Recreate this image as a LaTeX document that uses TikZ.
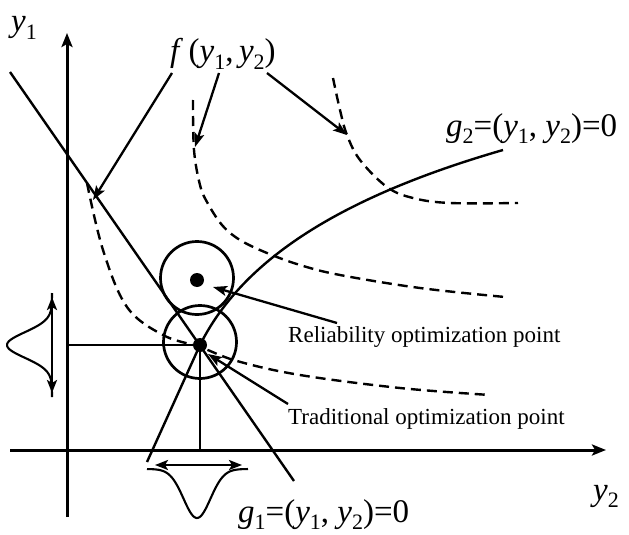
\documentclass[tikz,border=0pt]{standalone}
\usepackage{fontspec}
\setmainfont{Liberation Serif}
\usetikzlibrary{arrows.meta}
\newcommand{\sbx}[1]{\raisebox{-0.22em}{\fontsize{22}{22}\selectfont #1}}
\newcommand{\yy}[1]{\textit{y}\sbx{#1}}
\tikzset{
  ln/.style={line width=2.4pt},
  axis/.style={line width=3pt,-{Stealth[length=14pt,width=11pt,inset=3pt]}},
  ptr/.style={line width=2.3pt,-{Stealth[length=14pt,width=10pt,inset=3pt]}},
  dbl/.style={line width=2.4pt,{Stealth[length=13pt,width=10pt,inset=3pt]}-{Stealth[length=13pt,width=10pt,inset=3pt]}},
  dsh/.style={line width=2.4pt,dash pattern=on 10pt off 6pt},
  ring/.style={draw,circle,line width=2.7pt,minimum size=73pt,inner sep=0pt},
  dotp/.style={fill,circle,minimum size=14pt,inner sep=0pt},
  lbl/.style={font=\fontsize{23}{26}\selectfont,inner sep=0pt},
  big/.style={font=\fontsize{33}{36}\selectfont,inner sep=0pt},
}
\begin{document}
\begin{tikzpicture}[x=1pt,y=-1pt]
\useasboundingbox (0,0) rectangle (629,535);
% axes
\coordinate (ybot) at (67,517);
\coordinate (ytop) at (67,33);
\coordinate (xl) at (10,450);
\coordinate (xr) at (606,450);
\draw[axis] (ybot) -- (ytop);
\draw[axis] (xl) -- (xr);
\node[big,anchor=base west] (ly1) at (11,32) {\yy1};
\node[big,anchor=base west] (ly2) at (593,500) {\yy2};
% points and circles
\node[dotp] (tp) at (200,345) {};
\node[dotp] (rp) at (197,280) {};
\node[ring] (tc) at (200,342) {};
\node[ring] (rc) at (197,278) {};
% projections
\coordinate (ya) at (67,345);
\coordinate (xa) at (200,450);
\draw[ln] (ya) -- (tp.center);
\draw[ln] (tp.center) -- (xa);
% g1 line
\coordinate (g1a) at (10,72);
\coordinate (g1b) at (294,481);
\draw[ln] (g1a) -- (g1b);
% g2 curve
\coordinate (g2a) at (147,462);
\coordinate (g2b) at (503,150);
\draw[ln] (g2a) -- (tp.center) .. controls (240,265) and (330,200) .. (g2b);
% dashed contours
\draw[dsh] plot[smooth,tension=0.6] coordinates {(87,183) (103,250) (127,307) (163,335) (200,347) (237,361) (300,375) (400,388) (490,395)};
\draw[dsh] plot[smooth,tension=0.6] coordinates {(193,100) (194,150) (200,185) (207,202) (222,225) (240,240) (267,253) (300,265) (340,275) (420,288) (505,297)};
\draw[dsh] plot[smooth,tension=0.6] coordinates {(333,78) (340,110) (347,135) (360,160) (387,187) (413,198) (450,203) (518,203)};
% labels
\node[big,anchor=base west] (f) at (170,62) {\textit{f}\,(\yy1,\,\yy2)};
\node[big,anchor=base west] (g2) at (446,136) {\textit{g}\sbx{2}=(\yy1, \yy2)=0};
\node[big,anchor=base west] (g1) at (238,522) {\textit{g}\sbx{1}=(\yy1, \yy2)=0};
\node[lbl,anchor=base west] (rel) at (288,342) {Reliability optimization point};
\node[lbl,anchor=base west] (tra) at (288,424) {Traditional optimization point};
% pointers from f
\coordinate (fa) at (172,73);
\coordinate (fb) at (219,73);
\coordinate (fc) at (267,73);
\coordinate (ea) at (93,200);
\coordinate (eb) at (195,147);
\coordinate (ec) at (347,135);
\draw[ptr] (fa) -- (ea);
\draw[ptr] (fb) -- (eb);
\draw[ptr] (fc) -- (ec);
% pointers to points
\coordinate (rs) at (337,323);
\coordinate (re) at (213,287);
\coordinate (ts) at (288,404);
\coordinate (te) at (208,354);
\draw[ptr] (rs) -- (re);
\draw[ptr] (ts) -- (te);
% distributions
\coordinate (la) at (52,297);
\coordinate (lb) at (52,393);
\draw[dbl] (la) -- (lb);
\draw[line width=2.1pt] plot[domain=293:397,samples=80] ({52-45*exp(-((\x-345)/18)*((\x-345)/18))},\x);
\coordinate (ba) at (155,465);
\coordinate (bb) at (242,465);
\draw[dbl] (ba) -- (bb);
\draw[line width=2.1pt] plot[domain=147:248,samples=80] (\x,{469+49*exp(-((\x-197)/19)*((\x-197)/19))});
\end{tikzpicture}
\end{document}
